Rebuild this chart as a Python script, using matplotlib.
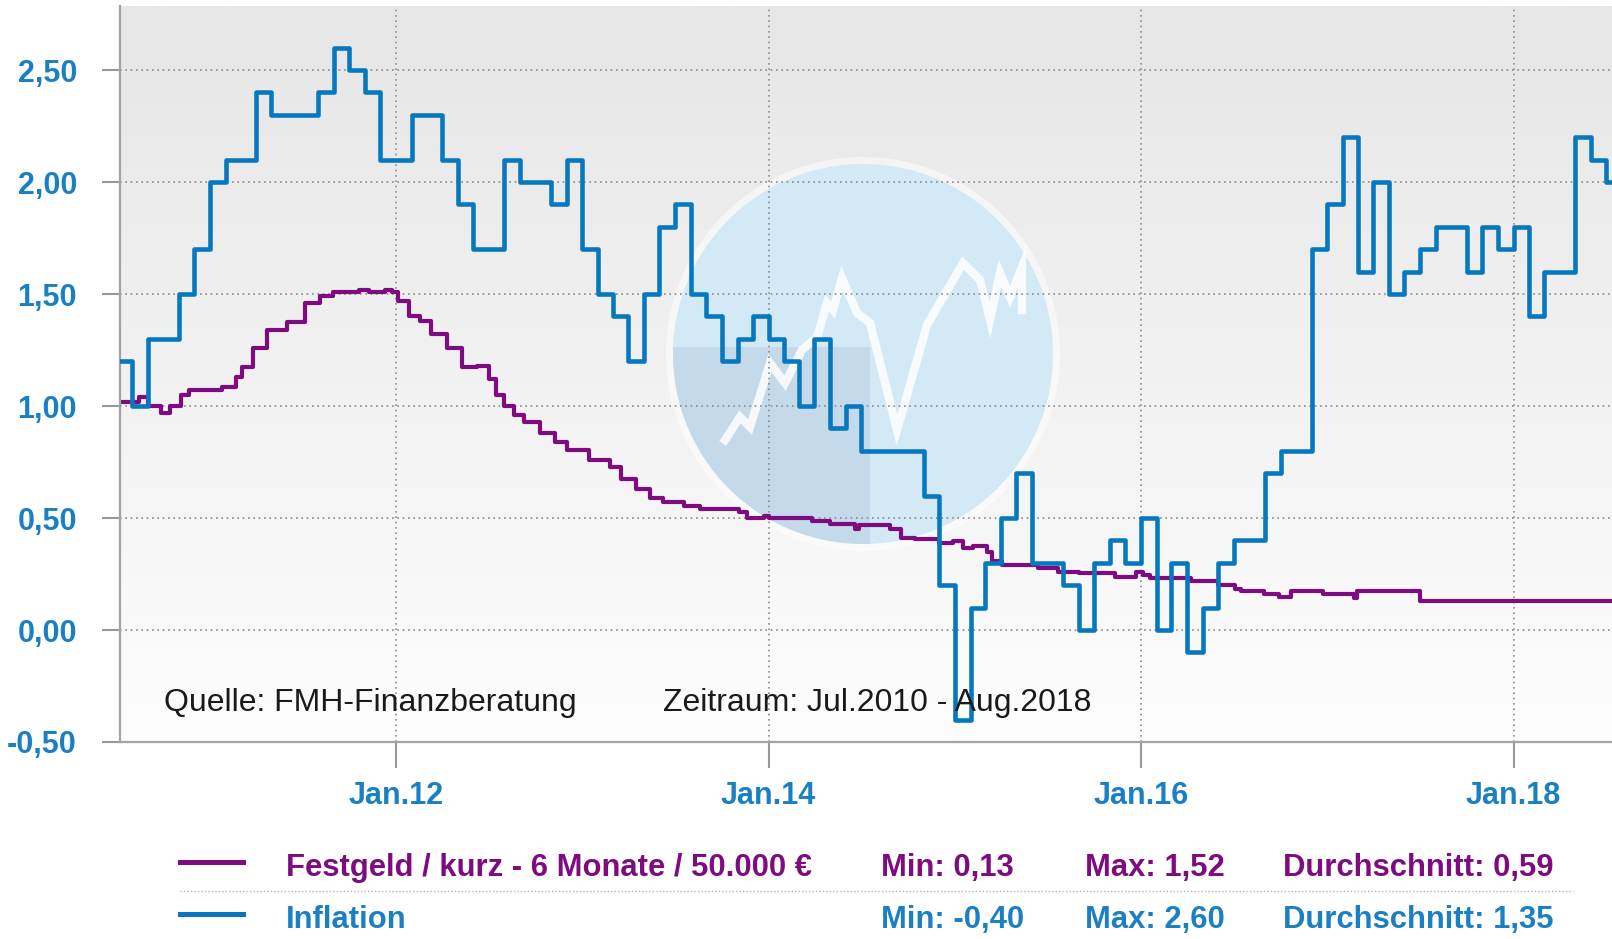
import matplotlib
matplotlib.use('Agg')
import numpy as np
import pandas as pd
import matplotlib.pyplot as plt
import matplotlib.dates as mdates
from matplotlib.patches import Circle, Rectangle
from matplotlib.lines import Line2D
from matplotlib.transforms import Affine2D
from matplotlib.colors import LinearSegmentedColormap
from datetime import datetime

# Inflation (monthly, Jul 2010 - Aug 2018)
infl_start = '2010-07-01'
inflation = [1.2, 1.0, 1.3, 1.3, 1.5, 1.7,
             2.0, 2.1, 2.1, 2.4, 2.3, 2.3, 2.3, 2.4, 2.6, 2.5, 2.4, 2.1,
             2.1, 2.3, 2.3, 2.1, 1.9, 1.7, 1.7, 2.1, 2.0, 2.0, 1.9, 2.1,
             1.7, 1.5, 1.4, 1.2, 1.5, 1.8, 1.9, 1.5, 1.4, 1.2, 1.3, 1.4,
             1.3, 1.2, 1.0, 1.3, 0.9, 1.0, 0.8, 0.8, 0.8, 0.8, 0.6, 0.2,
             -0.4, 0.1, 0.3, 0.5, 0.7, 0.3, 0.3, 0.2, 0.0, 0.3, 0.4, 0.3,
             0.5, 0.0, 0.3, -0.1, 0.1, 0.3, 0.4, 0.4, 0.7, 0.8, 0.8, 1.7,
             1.9, 2.2, 1.6, 2.0, 1.5, 1.6, 1.7, 1.8, 1.8, 1.6, 1.8, 1.7,
             1.8, 1.4, 1.6, 1.6, 2.2, 2.1, 2.0, 2.0]

# Festgeld 6 Monate / 50.000 EUR (change points)
fest_dates = ['2010-07-01', '2010-08-15', '2010-09-01', '2010-09-28', '2010-10-15', '2010-11-05',
              '2010-11-22', '2011-01-25', '2011-02-22', '2011-03-05', '2011-03-27', '2011-04-24',
              '2011-06-01', '2011-07-07', '2011-08-05', '2011-08-30', '2011-10-20', '2011-11-10',
              '2011-12-10', '2011-12-25', '2012-01-05', '2012-01-26', '2012-02-18', '2012-03-10',
              '2012-04-10', '2012-05-10', '2012-06-08', '2012-07-01', '2012-07-15', '2012-08-01',
              '2012-08-20', '2012-09-08', '2012-10-09', '2012-11-08', '2012-12-01', '2013-01-14',
              '2013-02-24', '2013-03-17', '2013-04-16', '2013-05-13', '2013-06-08', '2013-07-19',
              '2013-08-20', '2013-11-03', '2013-11-19', '2013-12-22', '2014-01-01', '2014-03-28',
              '2014-05-01', '2014-06-19', '2014-06-28', '2014-08-28', '2014-09-18', '2014-10-16',
              '2014-12-01', '2014-12-28', '2015-01-18', '2015-02-06', '2015-03-06', '2015-03-16',
              '2015-04-03', '2015-06-13', '2015-07-23', '2015-09-01', '2015-11-12', '2015-12-22',
              '2016-01-06', '2016-01-19', '2016-04-08', '2016-06-01', '2016-07-03', '2016-07-16',
              '2016-08-29', '2016-09-28', '2016-10-22', '2016-12-23', '2017-02-22', '2017-02-28',
              '2017-07-01', '2018-08-31']
fest_vals = [1.02, 1.04, 1.00, 0.97, 1.00, 1.05,
             1.07, 1.085, 1.13, 1.175, 1.26, 1.34,
             1.375, 1.46, 1.49, 1.51, 1.52, 1.51,
             1.52, 1.51, 1.47, 1.40, 1.38, 1.32,
             1.26, 1.175, 1.18, 1.12, 1.05, 1.00,
             0.96, 0.93, 0.88, 0.84, 0.805, 0.757,
             0.727, 0.675, 0.63, 0.59, 0.57, 0.555,
             0.54, 0.525, 0.50, 0.51, 0.50, 0.487,
             0.472, 0.45, 0.47, 0.45, 0.41, 0.405,
             0.39, 0.397, 0.367, 0.375, 0.35, 0.307,
             0.29, 0.277, 0.26, 0.255, 0.235, 0.26,
             0.247, 0.232, 0.217, 0.20, 0.185, 0.172,
             0.16, 0.147, 0.172, 0.16, 0.145, 0.172,
             0.13, 0.13]

yticks = [-0.5, 0.0, 0.5, 1.0, 1.5, 2.0, 2.5]
ytick_labels = ['-0,50', '0,00', '0,50', '1,00', '1,50', '2,00', '2,50']
xticks = ['2012-01-01', '2014-01-01', '2016-01-01', '2018-01-01']
xtick_labels = ['Jan.12', 'Jan.14', 'Jan.16', 'Jan.18']

series_names = ['Festgeld / kurz - 6 Monate / 50.000 \u20ac', 'Inflation']
stat_min = ['Min: 0,13', 'Min: -0,40']
stat_max = ['Max: 1,52', 'Max: 2,60']
stat_avg = ['Durchschnitt: 0,59', 'Durchschnitt: 1,35']

purple = '#7e0b80'
blue = '#0878be'
lblue = '#1b80c3'
font = 'Liberation Sans'

W, H = 1612, 939
fig = plt.figure(figsize=(W/100, H/100), dpi=100)
ax = fig.add_axes([120/W, (H-742)/H, 1-120/W, (742-6)/H])
pix = Affine2D().scale(1, -1).translate(0, H)   # pixel coords, origin top-left

x0 = mdates.date2num(datetime(2010, 7, 9))
x1 = mdates.date2num(datetime(2018, 7, 13))
ax.set_xlim(x0, x1)
ax.set_ylim(-0.5, 2.786)

# background gradient (grey at top, almost white at bottom)
cm = LinearSegmentedColormap.from_list('bg', ['#e6e6e6', '#fdfdfd'])
ax.imshow(np.linspace(0, 1, 256).reshape(-1, 1), cmap=cm, aspect='auto',
          extent=[0, 1, 0, 1], transform=ax.transAxes, zorder=0)

# watermark
glow = Circle((863, 354), 197, transform=pix, facecolor='white', edgecolor='none', alpha=0.5, zorder=0.3)
ax.add_patch(glow)
disc = Circle((863, 354), 190, transform=pix, facecolor='#d3e9f5', edgecolor='none', zorder=0.4)
ax.add_patch(disc)
block = Rectangle((660, 347), 210, 210, transform=pix, facecolor='#aec4de', edgecolor='none',
                  alpha=0.4, zorder=0.45)
ax.add_patch(block)
block.set_clip_path(disc)
zx = [725, 740, 750, 770, 785, 802, 817, 827, 833, 842, 857, 870, 897, 927, 963, 980, 990, 1000, 1010, 1022, 1022]
zy = [440, 417, 427, 363, 383, 350, 337, 303, 310, 278, 313, 323, 430, 325, 263, 280, 320, 273, 297, 267, 310]
ax.add_line(Line2D(zx, zy, transform=pix, color='white', lw=6, alpha=0.85,
                   solid_joinstyle='miter', zorder=0.5))

# series
idx = pd.date_range(infl_start, periods=len(inflation), freq='MS')
ax.plot(idx, inflation, drawstyle='steps-post', color=blue, lw=3.3, zorder=3)
ax.plot(pd.to_datetime(fest_dates), fest_vals, drawstyle='steps-post', color=purple, lw=3.0, zorder=2.5)

ax.grid(True, color='#8c8c8c', linestyle=(0, (1, 2.2)), linewidth=1.2)
ax.set_yticks(yticks)
ax.set_yticklabels(ytick_labels)
ax.set_xticks([mdates.date2num(pd.Timestamp(t)) for t in xticks])
ax.set_xticklabels(xtick_labels)
ax.tick_params(axis='y', length=13, width=1.5, color='#999999', pad=18)
ax.tick_params(axis='x', length=19, width=1.5, color='#999999', pad=9)
for lab in ax.get_xticklabels() + ax.get_yticklabels():
    lab.set_fontfamily(font)
    lab.set_fontweight('bold')
    lab.set_fontsize(22)
    lab.set_color(lblue)
for s in ['top', 'right']:
    ax.spines[s].set_visible(False)
for s in ['left', 'bottom']:
    ax.spines[s].set_color('#a3a3a3')
    ax.spines[s].set_linewidth(1.6)

fig.text(164/W, 1-703/H, 'Quelle: FMH-Finanzberatung', fontsize=23, family=font,
         color='#1a1a1a', va='center', ha='left')
fig.text(663/W, 1-703/H, 'Zeitraum: Jul.2010 - Aug.2018', fontsize=23, family=font,
         color='#1a1a1a', va='center', ha='left')

# legend
rows_y = [876, 928]
cols = [purple, blue]
for i in range(2):
    yb = rows_y[i]
    fig.add_artist(Line2D([180/W, 243/W], [1-(yb-14)/H, 1-(yb-14)/H], transform=fig.transFigure,
                          color=cols[i], lw=3.6))
    for xp, txt in zip([286, 881, 1085, 1283], [series_names[i], stat_min[i], stat_max[i], stat_avg[i]]):
        fig.text(xp/W, 1-yb/H, txt, fontsize=22.3, family=font, fontweight='bold',
                 color=cols[i] if i == 0 else lblue, va='baseline', ha='left')
fig.add_artist(Line2D([180/W, 1573/W], [1-891/H, 1-891/H], transform=fig.transFigure,
                      color='#b5b5b5', lw=1.0, linestyle=(0, (1, 1.5))))

fig.savefig('out.png', dpi=100)
